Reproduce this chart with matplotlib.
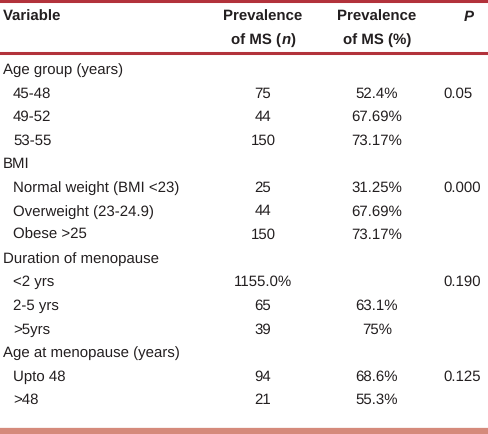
import matplotlib
matplotlib.use("Agg")
import matplotlib.pyplot as plt
from matplotlib import font_manager

plt.rcParams["text.hinting"] = "no_hinting"
plt.rcParams["text.hinting_factor"] = 1

names = {f.name for f in font_manager.fontManager.ttflist}
FONT = "Liberation Sans Narrow" if "Liberation Sans Narrow" in names else "Liberation Sans"

header_var = "Variable"
header_n = ("Prevalence", "of MS (", "n", ")")
header_pct = ("Prevalence", "of MS (%)")
header_p = "P"
groups = ["Age group (years)", "BMI", "Duration of menopause", "Age at menopause (years)"]
row_labels = [
    ["45-48", "49-52", "53-55"],
    ["Normal weight (BMI <23)", "Overweight (23-24.9)", "Obese >25"],
    ["<2 yrs", "2-5 yrs", ">5yrs"],
    ["Upto 48", ">48"],
]
n_values = [
    ["75", "44", "150"],
    ["25", "44", "150"],
    ["1155.0%", "65", "39"],
    ["94", "21"],
]
pct_values = [
    ["52.4%", "67.69%", "73.17%"],
    ["31.25%", "67.69%", "73.17%"],
    ["", "63.1%", "75%"],
    ["68.6%", "55.3%"],
]
p_values = ["0.05", "0.000", "0.190", "0.125"]

W, H = 488, 434
fig = plt.figure(figsize=(W / 100, H / 100), dpi=100)
ax = fig.add_axes([0, 0, 1, 1])
ax.set_xlim(0, W)
ax.set_ylim(H, 0)
ax.axis("off")

fs = 10.5
txtc = "#231f20"
red = "#b2323b"
ax.axhline(1, color=red, lw=2.2)
ax.axhline(53, color=red, lw=2.2)
ax.axhline(431, color="#d58a7b", lw=4.5)

hkw = dict(fontfamily=FONT, fontsize=fs, fontweight="bold", color=txtc, va="center")
ax.text(3, 17, header_var, ha="left", **hkw)
ax.text(263, 17, header_n[0], ha="center", **hkw)
ax.text(377, 17, header_pct[0], ha="center", **hkw)
ax.text(377, 40, header_pct[1], ha="center", **hkw)
ax.text(469, 17, header_p, ha="center", fontstyle="italic", **hkw)

# second header line of the n column, with italic n
fig.canvas.draw()
r = fig.canvas.get_renderer()
parts = [ax.text(0, 40, header_n[1], ha="left", **hkw),
         ax.text(0, 40, header_n[2], ha="left", fontstyle="italic", **hkw),
         ax.text(0, 40, header_n[3], ha="left", **hkw)]
widths = [p.get_window_extent(r).width for p in parts]
x = 263 - sum(widths) / 2
for p, w in zip(parts, widths):
    p.set_x(x)
    x += w + 0.5

kw = dict(fontfamily=FONT, fontsize=fs, color=txtc, va="center")
y = 70
step = 23.6
for g, labels, ns, pcts, p in zip(groups, row_labels, n_values, pct_values, p_values):
    ax.text(3, y, g, ha="left", **kw)
    y += step
    for i, (lab, n, pc) in enumerate(zip(labels, ns, pcts)):
        ax.text(13, y, lab, ha="left", **kw)
        ax.text(263, y, n, ha="center", **kw)
        if pc:
            ax.text(377, y, pc, ha="center", **kw)
        if i == 0:
            ax.text(443, y, p, ha="left", **kw)
        y += step

fig.savefig("out.png", dpi=100, facecolor="white")
